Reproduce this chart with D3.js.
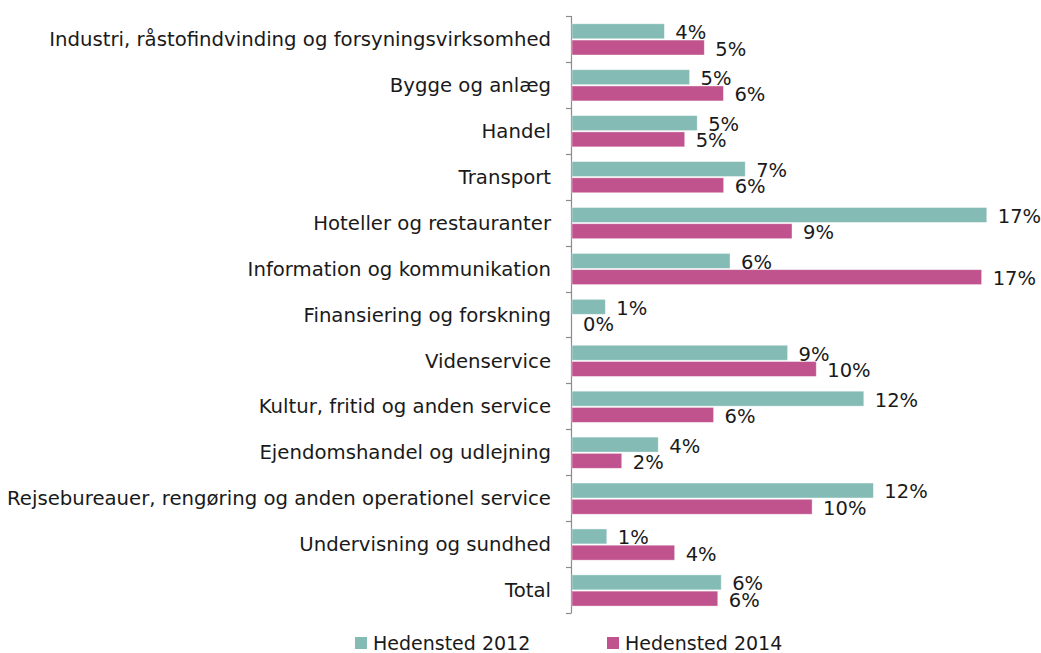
<!DOCTYPE html>
<html>
<head>
<meta charset="utf-8">
<script src="https://cdn.jsdelivr.net/npm/d3@7"></script>
<style>
  html, body { margin: 0; padding: 0; background: #fff; }
  svg text { font-family: "DejaVu Sans", sans-serif; fill: #1a1a1a; }
</style>
</head>
<body>
<svg id="chart" width="1041" height="653"></svg>
<script>
// Share by sector, Hedensted 2012 vs 2014
const categories = [
  "Industri, råstofindvinding og forsyningsvirksomhed",
  "Bygge og anlæg",
  "Handel",
  "Transport",
  "Hoteller og restauranter",
  "Information og kommunikation",
  "Finansiering og forskning",
  "Videnservice",
  "Kultur, fritid og anden service",
  "Ejendomshandel og udlejning",
  "Rejsebureauer, rengøring og anden operationel service",
  "Undervisning og sundhed",
  "Total"
];
const seriesNames = ["Hedensted 2012", "Hedensted 2014"];
const values2012 = [0.0377, 0.0480, 0.0511, 0.0707, 0.1693, 0.0645, 0.0136, 0.0880, 0.1191, 0.0352, 0.1230, 0.0142, 0.0609];
const values2014 = [0.0540, 0.0618, 0.0460, 0.0619, 0.0898, 0.1672, 0.0000, 0.0997, 0.0578, 0.0203, 0.0980, 0.0419, 0.0595];
const colors = ["#84bbb5", "#c0538d"];

const svg = d3.select("#chart");
const axisX = 571;

const x = d3.scaleLinear().domain([0, 0.18]).range([axisX, axisX + 441]);
const y = d3.scaleBand().domain(categories).range([16, 613]);
const ySeries = d3.scaleBand().domain(seriesNames).range([7.8, 39]).paddingInner(0.08);
const color = d3.scaleOrdinal().domain(seriesNames).range(colors);
const fmt = d3.format(".0%");

const rows = categories.map((c, i) => ({
  category: c,
  items: [
    { series: seriesNames[0], value: values2012[i] },
    { series: seriesNames[1], value: values2014[i] }
  ]
}));

// Vertical category axis with outward ticks at band boundaries
const axisG = svg.append("g");
axisG.append("line")
  .attr("x1", axisX + 0.5).attr("x2", axisX + 0.5)
  .attr("y1", y.range()[0]).attr("y2", y.range()[1])
  .attr("stroke", "#8c8c8c").attr("stroke-width", 1.2);
const boundaries = categories.map(c => y(c)).concat([y.range()[1]]);
axisG.selectAll("line.tick").data(boundaries).join("line")
  .attr("class", "tick")
  .attr("x1", axisX - 5).attr("x2", axisX + 0.5)
  .attr("y1", d => Math.round(d) + 0.5).attr("y2", d => Math.round(d) + 0.5)
  .attr("stroke", "#8c8c8c").attr("stroke-width", 1.2);

// Category labels
svg.append("g").selectAll("text").data(categories).join("text")
  .attr("x", axisX - 20)
  .attr("y", d => y(d) + y.bandwidth() / 2)
  .attr("dy", "0.36em")
  .attr("text-anchor", "end")
  .attr("font-size", 19.7)
  .text(d => d);

// Bars and value labels
const groups = svg.append("g").selectAll("g").data(rows).join("g")
  .attr("transform", d => `translate(0,${y(d.category)})`);

groups.selectAll("rect").data(d => d.items).join("rect")
  .attr("x", x(0) + 1)
  .attr("y", d => ySeries(d.series))
  .attr("width", d => Math.max(0, x(d.value) - x(0)))
  .attr("height", ySeries.bandwidth())
  .attr("fill", d => color(d.series))
  .attr("stroke", d => d.value > 0 ? "#ffffff" : "none")
  .attr("stroke-opacity", 0.5)
  .attr("stroke-width", 0.8);

groups.selectAll("text").data(d => d.items).join("text")
  .attr("x", d => x(d.value) + 12)
  .attr("y", d => ySeries(d.series) + ySeries.bandwidth() + 0.5)
  .attr("font-size", 19.5)
  .text(d => fmt(d.value));

// Legend
const legend = svg.append("g");
const legendPos = [355, 607];
seriesNames.forEach((s, i) => {
  legend.append("rect")
    .attr("x", legendPos[i]).attr("y", 637)
    .attr("width", 12).attr("height", 12)
    .attr("fill", color(s));
  legend.append("text")
    .attr("x", legendPos[i] + 18).attr("y", 650)
    .attr("font-size", 19)
    .text(s);
});
</script>
</body>
</html>
